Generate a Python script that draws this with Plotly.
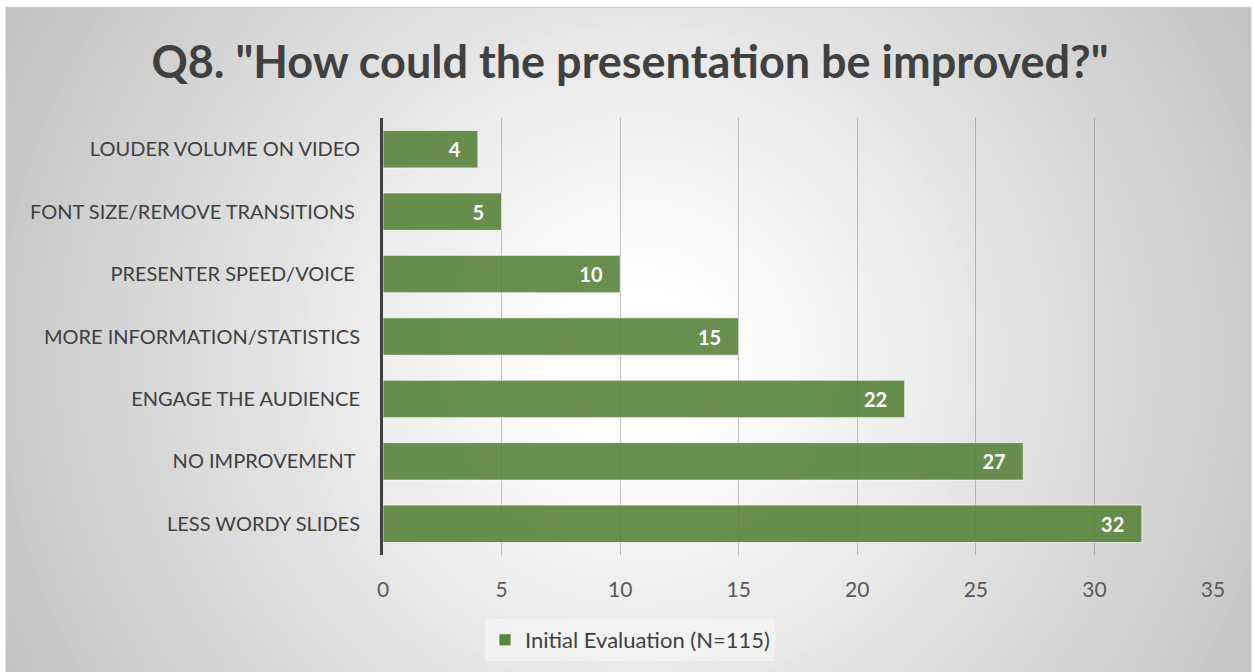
import math
import plotly.graph_objects as go

# ---- data ----
categories = [
    "LOUDER VOLUME ON VIDEO",
    "FONT SIZE/REMOVE TRANSITIONS\u00a0",
    "PRESENTER SPEED/VOICE\u00a0",
    "MORE INFORMATION/STATISTICS",
    "ENGAGE THE AUDIENCE",
    "NO IMPROVEMENT\u00a0",
    "LESS WORDY SLIDES",
]
values = [4, 5, 10, 15, 22, 27, 32]
x_ticks = [0, 5, 10, 15, 20, 25, 30, 35]
series_name = "Initial Evaluation (N=115)"
title_text = 'Q8. "How could the presentation be improved?"'

# ---- geometry ----
W, H = 1253, 672
L, R, T, B = 383, 40, 118, 116
PW = W - L - R
PH = H - T - B


def px(x):
    return (x - L) / PW


def py(y):
    return (H - B - y) / PH


fig = go.Figure()
fig.add_trace(go.Bar(
    y=categories, x=values, orientation="h", name=series_name,
    marker=dict(color="rgb(90,132,60)", opacity=0.9,
                line=dict(color="rgba(255,255,255,0.7)", width=1)),
    width=0.6,
    texttemplate="%{x}\u00a0\u00a0\u00a0",
    textposition="inside", insidetextanchor="end",
    textfont=dict(color="white", size=20, family="Lato", weight="bold"),
    showlegend=True,
))

shapes = []
shapes.append(dict(type="rect", xref="paper", yref="paper",
                   x0=px(0), x1=px(W), y0=py(H), y1=py(0),
                   fillcolor="white", line=dict(width=0), layer="below"))
# radial gradient made of concentric circles
cx, cy = 640, 360
rmax = 760
n = 70
for i in range(n):
    r = rmax * (1 - i / n)
    t = max(0.0, (r - 80) / (730 - 80))
    c = int(round(255 - 62 * min(1.0, t)))
    shapes.append(dict(type="circle", xref="paper", yref="paper",
                       x0=px(cx - r), x1=px(cx + r), y0=py(cy + r), y1=py(cy - r),
                       fillcolor=f"rgb({c},{c},{c})", line=dict(width=0), layer="below"))
shapes.append(dict(type="rect", xref="paper", yref="paper",
                   x0=px(-50), x1=px(W + 50), y0=py(7), y1=py(-50),
                   fillcolor="white", line=dict(width=0), layer="below"))
shapes.append(dict(type="rect", xref="paper", yref="paper",
                   x0=px(-50), x1=px(6), y0=py(H + 50), y1=py(-50),
                   fillcolor="white", line=dict(width=0), layer="below"))
shapes.append(dict(type="rect", xref="paper", yref="paper",
                   x0=px(W - 2), x1=px(W + 50), y0=py(H + 50), y1=py(-50),
                   fillcolor="white", line=dict(width=0), layer="below"))
shapes.append(dict(type="rect", xref="paper", yref="paper",
                   x0=px(6), x1=px(W - 2), y0=py(H + 5), y1=py(7),
                   fillcolor="rgba(0,0,0,0)", line=dict(width=1, color="rgb(200,200,200)"),
                   layer="below"))

fig.update_layout(
    width=W, height=H,
    margin=dict(l=L, r=R, t=T, b=B),
    paper_bgcolor="white",
    plot_bgcolor="rgba(0,0,0,0)",
    shapes=shapes,
    title=dict(text=title_text, x=630 / W, xanchor="center", xref="container",
               y=1 - 62 / H, yanchor="middle", yref="container",
               font=dict(family="Lato", size=45, color="#404040", weight="bold")),
    bargap=0.4,
    xaxis=dict(range=[0, 35], tickvals=x_ticks, showgrid=True,
               gridcolor="rgba(0,0,0,0.22)", gridwidth=1, zeroline=False,
               showline=False, ticks="", ticklabelstandoff=20,
               tickfont=dict(family="Lato", size=21, color="#595959")),
    yaxis=dict(autorange="reversed", showgrid=False, showline=True,
               linecolor="#404040", linewidth=3, ticks="",
               ticklabelstandoff=16,
               tickfont=dict(family="Lato", size=20, color="#404040")),
    legend=dict(orientation="h", x=px(630), xanchor="center", y=py(640),
                yanchor="middle", bgcolor="rgba(250,250,250,0.55)",
                font=dict(family="Lato", size=22, color="#404040"),
                itemwidth=30),
)

fig.write_html("out.html", config={"displayModeBar": False},
               post_script="document.body.style.margin='0px';")
